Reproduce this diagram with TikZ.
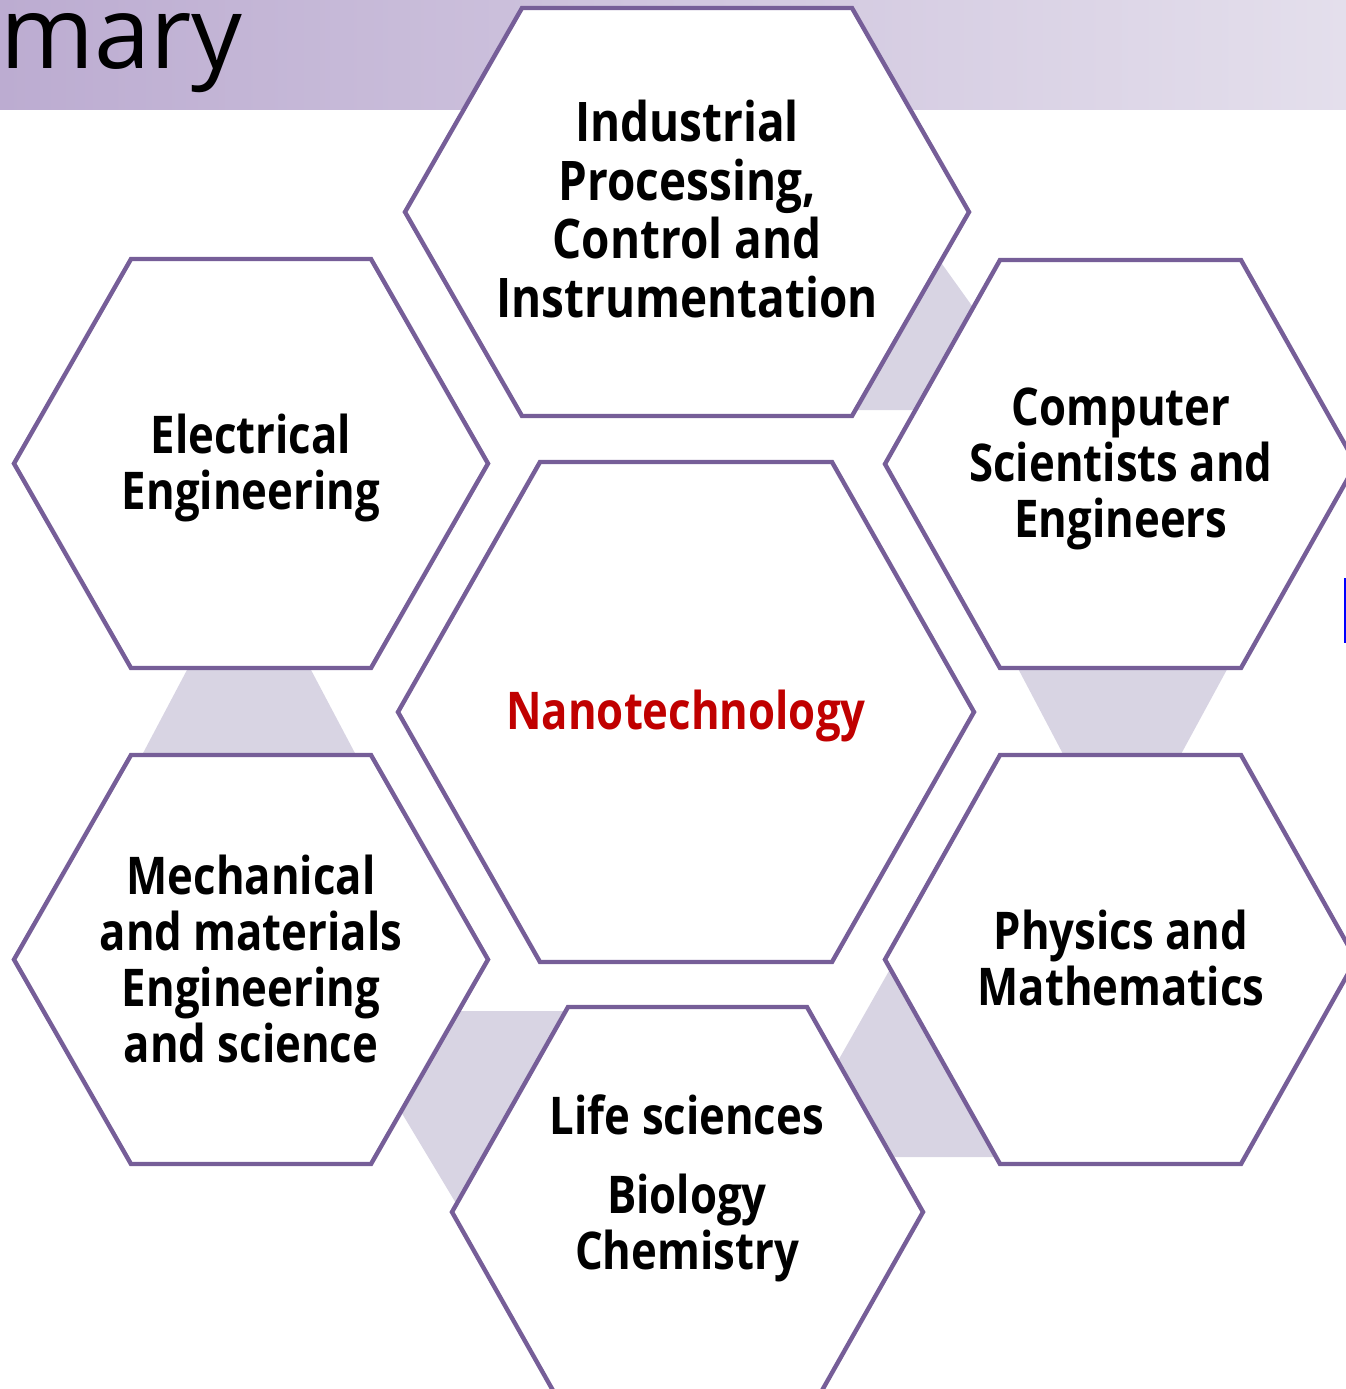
\documentclass[tikz,border=0pt]{standalone}
\usepackage{fontspec}
\newfontfamily\hexfont{Open Sans}[FakeStretch=0.84]
\newfontfamily\titlefont{Open Sans}
\definecolor{hexline}{RGB}{118,94,152}
\definecolor{linkfill}{RGB}{216,212,227}
\definecolor{nanored}{RGB}{192,0,0}
\definecolor{bandL}{RGB}{188,172,209}
\definecolor{bandR}{RGB}{228,223,236}
\newcommand\hexagon[5]{%
  \draw[hexbox] ({#1-#3},#2) -- ({#1-#4},{#2-#5}) -- ({#1+#4},{#2-#5})
    -- ({#1+#3},#2) -- ({#1+#4},{#2+#5}) -- ({#1-#4},{#2+#5}) -- cycle;}
\tikzset{
  hexbox/.style={draw=hexline, fill=white, line width=2.2pt},
  linkshape/.style={fill=linkfill},
  lbl/.style={font=\hexfont\bfseries\fontsize{26}{28}\selectfont, align=center, inner sep=0pt, text=black},
}
\begin{document}
\begin{tikzpicture}[x=0.5pt,y=-0.5pt]
\useasboundingbox (0,0) rectangle (1346,1389);
\clip (0,0) rectangle (1346,1389);
% title band
\shade[left color=bandL, right color=bandR] (0,0) rectangle (1346,109);
\node[anchor=base west, inner sep=0pt, text height=25pt, text depth=12pt, font=\titlefont\fontsize{50.5}{51}\selectfont] (title) at (0,68) {mary};
% link shapes
\fill[linkshape] (202.8,640) -- (295.2,640) -- (369.2,780) -- (128.8,780) -- cycle;
\fill[linkshape] (927,243) -- (985,324) -- (930,410) -- (840,410) -- cycle;
\fill[linkshape] (440,1011) -- (580,1011) -- (466,1220) -- (388,1090) -- cycle;
\fill[linkshape] (898,955) -- (1010,1157) -- (880,1157) -- (830,1075) -- cycle;
\fill[linkshape] (1003,640) -- (1243,640) -- (1167,780) -- (1076.7,780) -- cycle;
% hexagons
\hexagon{687}{212}{282}{165}{204}
\hexagon{251}{463.5}{237}{120}{204.5}
\hexagon{1120.5}{464}{235.5}{120.5}{204}
\hexagon{686}{712}{288}{146}{250}
\hexagon{251}{959.5}{237}{120}{204.5}
\hexagon{1120.5}{959.5}{235.5}{120.5}{204.5}
\hexagon{687.5}{1212}{235.5}{119.5}{205}
% labels
\node[lbl, font=\hexfont\bfseries\fontsize{27.3}{29.3}\selectfont] (ind) at (687,209) {Industrial\\Processing,\\Control and\\Instrumentation};
\node[lbl] (elec) at (251,468) {Electrical\\Engineering};
\node[lbl] (comp) at (1121,469) {Computer\\Scientists and\\Engineers};
\node[lbl, text=nanored] (nano) at (686,716) {Nanotechnology};
\node[lbl] (mech) at (251,959) {Mechanical\\and materials\\Engineering\\and science};
\node[lbl] (phys) at (1121,958) {Physics and\\Mathematics};
\node[lbl] (life) at (687,1188) {Life sciences\\[11.5pt]Biology\\Chemistry};
% blue edge mark
\draw[blue, line width=1pt] (1345,578) -- (1345,643);
\end{tikzpicture}
\end{document}
